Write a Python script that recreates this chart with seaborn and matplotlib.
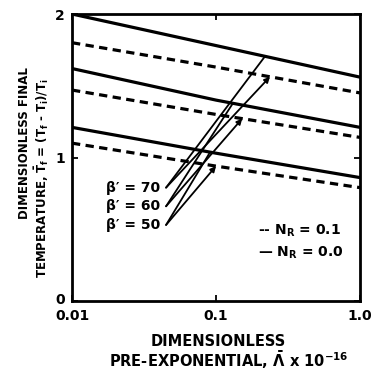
import numpy as np
import pandas as pd
import matplotlib
matplotlib.use("Agg")
import matplotlib.pyplot as plt
import matplotlib.transforms as mtransforms
import seaborn as sns

# Pre-exponential factor (x) sample points
lam = [0.01, 0.1, 1.0]

# Final temperature for each beta' (top pair 70, middle 60, bottom 50)
beta_vals = [70, 60, 50]
t_nr00 = {70: [2.00, 1.78, 1.56], 60: [1.62, 1.40, 1.21], 50: [1.21, 1.03, 0.86]}
t_nr01 = {70: [1.80, 1.63, 1.45], 60: [1.47, 1.30, 1.14], 50: [1.10, 0.94, 0.79]}

# Pointer lines from each beta' label to its pair of curves
label_x = 0.045
label_y = {70: 0.79, 60: 0.66, 50: 0.53}
end_x_solid = {70: 0.219, 60: 0.131, 50: 0.091}
end_x_dash = {70: 0.237, 60: 0.152, 50: 0.100}

x_ticks = [0.01, 0.1, 1.0]
x_ticklabels = ["0.01", "0.1", "1.0"]
y_ticks = [0, 1, 2]
y_ticklabels = ["0", "1", "2"]

sns.set_style("ticks")
plt.rcParams["font.family"] = ["DejaVu Sans"]
plt.rcParams["font.weight"] = "bold"
plt.rcParams["text.color"] = "black"
plt.rcParams["axes.edgecolor"] = "black"
plt.rcParams["xtick.color"] = "black"
plt.rcParams["ytick.color"] = "black"
plt.rcParams["mathtext.fontset"] = "custom"
plt.rcParams["mathtext.rm"] = "DejaVu Sans:bold"
plt.rcParams["mathtext.it"] = "DejaVu Sans:bold"
plt.rcParams["mathtext.bf"] = "DejaVu Sans:bold"

rows = []
for b in beta_vals:
    for x, y in zip(lam, t_nr00[b]):
        rows.append({"lam": x, "T": y, "beta": b, "NR": "0.0"})
    for x, y in zip(lam, t_nr01[b]):
        rows.append({"lam": x, "T": y, "beta": b, "NR": "0.1"})
df = pd.DataFrame(rows)
df["grp"] = df["beta"].astype(str) + "_" + df["NR"]

W, H = 372, 371
fig = plt.figure(figsize=(W / 100, H / 100), dpi=100)
ax = fig.add_axes([72 / W, 1 - 301 / H, 288 / W, 287 / H])

sns.lineplot(data=df[df["NR"] == "0.0"], x="lam", y="T", units="grp", estimator=None,
             color="black", lw=2.3, ax=ax, legend=False)
sns.lineplot(data=df[df["NR"] == "0.1"], x="lam", y="T", units="grp", estimator=None,
             color="black", lw=2.3, ax=ax, legend=False)
for ln in ax.lines[3:]:
    ln.set_dashes([2.6, 1.7])

ax.set_xscale("log")
ax.set_xlim(0.01, 1.0)
ax.set_ylim(0, 2)


def on_curve(xv, ys):
    return float(np.interp(np.log10(xv), np.log10(lam), ys))


for b in beta_vals:
    x0, y0 = label_x, label_y[b]
    xs = end_x_solid[b]
    ax.plot([x0, xs], [y0, on_curve(xs, t_nr00[b])], color="black", lw=1.3)
    xd = end_x_dash[b]
    ax.annotate("", xy=(xd, on_curve(xd, t_nr01[b])), xytext=(x0, y0),
                arrowprops=dict(arrowstyle="-|>", color="black", lw=1.3,
                                mutation_scale=8, shrinkA=0, shrinkB=0))
    ax.text(0.041, y0, f"β′ = {b}", ha="right", va="center",
            fontsize=10, fontweight="bold")

ax.set_xticks(x_ticks)
ax.set_xticklabels(x_ticklabels)
ax.set_yticks(y_ticks)
ax.set_yticklabels(y_ticklabels)
ax.minorticks_off()
ax.tick_params(direction="in", top=True, right=True, length=4, width=1.3,
               labelsize=10, pad=5)
ax.tick_params(axis="x", pad=6)
for lab in ax.get_xticklabels() + ax.get_yticklabels():
    lab.set_fontweight("bold")
# lift the "0" on the y axis a little so it clears the "0.01" below it
zero_lab = ax.get_yticklabels()[0]
zero_lab.set_transform(zero_lab.get_transform() +
                       mtransforms.ScaledTranslation(0, 3 / 100, fig.dpi_scale_trans))
for s in ax.spines.values():
    s.set_linewidth(2.0)
ax.set_xlabel("")
ax.set_ylabel("")

# Legend text
ax.text(0.645, 0.244, "-- N$_\\mathregular{R}$ = 0.1", transform=ax.transAxes,
        fontsize=10, fontweight="bold", ha="left", va="center")
ax.text(0.645, 0.167, "— N$_\\mathregular{R}$ = 0.0", transform=ax.transAxes,
        fontsize=10, fontweight="bold", ha="left", va="center")

# Axis titles
fig.text(218 / W, 1 - 341 / H, "DIMENSIONLESS", ha="center", va="center",
         fontsize=10.5, fontweight="bold")
fig.text(229 / W, 1 - 360 / H,
         "PRE-EXPONENTIAL, $\\bar{\\Lambda}$ x 10$^{\\mathregular{-16}}$",
         ha="center", va="center", fontsize=10.5, fontweight="bold")
fig.text(25 / W, 1 - 143 / H, "DIMENSIONLESS FINAL", rotation=90,
         ha="center", va="center", fontsize=8.5, fontweight="bold")
fig.text(42 / W, 1 - 178 / H,
         "TEMPERATURE, $\\bar{\\mathregular{T}}_\\mathregular{f}$ = "
         "(T$_\\mathregular{f}$ - T$_\\mathregular{i}$)/T$_\\mathregular{i}$",
         rotation=90, ha="center", va="center", fontsize=8.5, fontweight="bold")

fig.savefig("out.png", dpi=100)
